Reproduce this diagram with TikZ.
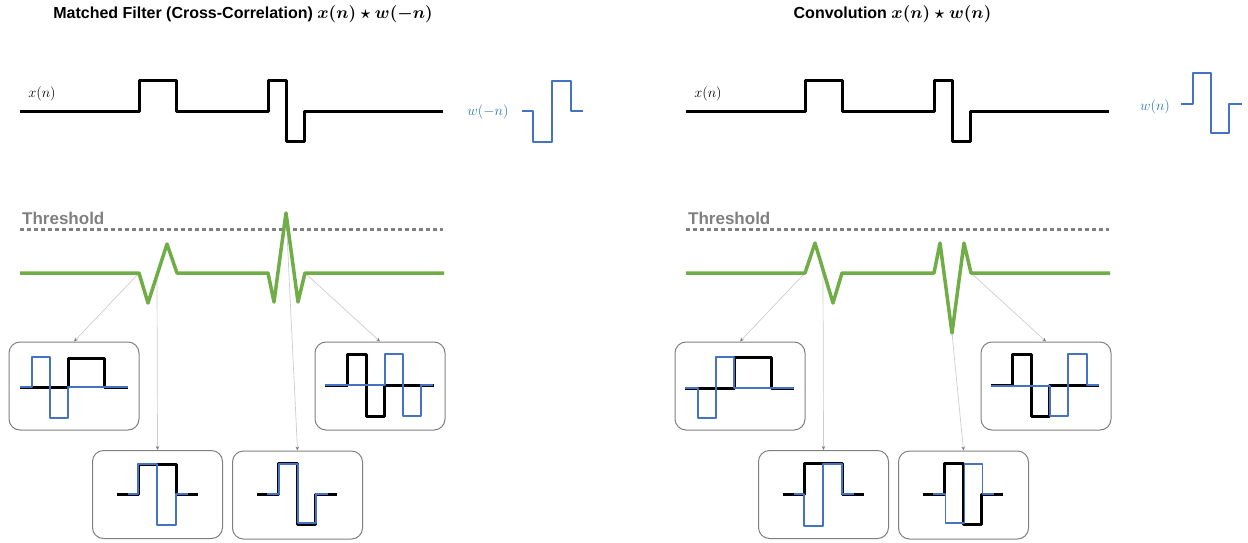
\documentclass[tikz,border=0pt]{standalone}
\usepackage{fontspec}
\setmainfont{Liberation Sans}
\usetikzlibrary{arrows.meta}

\definecolor{sigblue}{RGB}{68,114,196}
\definecolor{lblblue}{RGB}{46,117,182}
\definecolor{corrgreen}{RGB}{112,173,71}
\definecolor{thrgray}{RGB}{128,128,128}
\definecolor{conngray}{RGB}{205,205,205}
\definecolor{boxgray}{RGB}{127,127,127}

\tikzset{
  title/.style={font=\fontsize{16}{19}\selectfont\bfseries, inner sep=0pt},
  siglabel/.style={font=\fontsize{15}{18}\selectfont, inner sep=0pt},
  wlabel/.style={siglabel, text=lblblue},
  xsig/.style={line width=3pt, black, line join=round},
  wsig/.style={line width=1.8pt, sigblue, line join=round},
  bxsig/.style={line width=3pt, black, line join=round},
  bwsig/.style={line width=1.6pt, sigblue, line join=round},
  outline/.style={line width=3.5pt, corrgreen, line join=round},
  thrline/.style={line width=3pt, thrgray, dash pattern=on 3.5pt off 3.5pt},
  thrlabel/.style={font=\fontsize{17}{20}\selectfont\bfseries, text=thrgray, inner sep=0pt, anchor=west},
  panel/.style={draw=boxgray, line width=1pt, rounded corners=11pt,
                minimum width=130pt, minimum height=88pt, inner sep=0pt},
  conn/.style={draw=conngray, line width=0.7pt,
               -{Stealth[length=4pt,width=3.5pt,fill=gray,color=gray]}}
}

\begin{document}
\begin{tikzpicture}[x=1pt,y=-1pt]
\useasboundingbox (0,0) rectangle (1248,542);

% ================= cross-correlation (left) =================
\node[title] (titleL) at (243,14) {Matched Filter (Cross-Correlation) {\boldmath$x(n)\star w(-n)$}};

\node[siglabel] (xlL) at (42,94) {$x(n)$};
\draw[xsig] (20,111) -- (139,111) -- (139,80) -- (176,80) -- (176,111) -- (268,111)
  -- (268,80) -- (286,80) -- (286,141) -- (304,141) -- (304,111) -- (443,111);

\node[wlabel] (wlL) at (488,112) {$w(-n)$};
\draw[wsig] (522,111) -- (533,111) -- (533,142) -- (552,142) -- (552,81) -- (571,81) -- (571,111) -- (583,111);

\node[thrlabel] (thrL) at (22,218) {Threshold};
\draw[thrline] (20,229) -- (443,229);

\coordinate (a1) at (139,273);
\coordinate (a2) at (157,275);
\coordinate (a3) at (286,213);
\coordinate (a4) at (305,273);

\node[panel] (bA) at (74,386) {};
\node[panel] (bB) at (157.5,494.5) {};
\node[panel] (bC) at (297.5,495) {};
\node[panel] (bD) at (380,386) {};

\draw[conn] (a1) -- (bA.north);
\draw[conn] (a2) -- (bB.north);
\draw[conn] (a3) -- (bC.north);
\draw[conn] (a4) -- (bD.north);

\draw[outline] (20,273) -- (a1) -- (148,303) -- (167,244) -- (177,273) -- (268,273)
  -- (274,302) -- (a3) -- (298,302) -- (a4) -- (444,273);

% box A
\draw[bxsig] (20,387) -- (68,387) -- (68,358) -- (104,358) -- (104,387) -- (128,387);
\draw[bwsig] (20,387) -- (32,387) -- (32,357) -- (50,357) -- (50,418) -- (68,418) -- (68,387) -- (128,387);
% box B
\draw[bxsig] (117,494) -- (138,494) -- (138,464) -- (176,464) -- (176,494) -- (198,494);
\draw[bwsig] (128,494) -- (138,494) -- (138,464) -- (157,464) -- (157,525) -- (176,525) -- (176,494) -- (188,494);
% box C
\draw[bxsig] (257,494) -- (278,494) -- (278,463) -- (297,463) -- (297,524) -- (315,524) -- (315,494) -- (337,494);
\draw[bwsig] (267,494) -- (279,494) -- (279,464) -- (298,464) -- (298,523) -- (316,523) -- (316,494) -- (328,494);
% box D
\draw[bxsig] (325,385) -- (347,385) -- (347,354) -- (366,354) -- (366,416) -- (384,416) -- (384,385) -- (434,385);
\draw[bwsig] (325,385) -- (385,385) -- (385,354) -- (403,354) -- (403,416) -- (421,416) -- (421,385) -- (433,385);

% ================= convolution (right) =================
\node[title] (titleR) at (892.5,14) {Convolution {\boldmath$x(n)\star w(n)$}};

\node[siglabel] (xlR) at (708,94) {$x(n)$};
\draw[xsig] (686,111) -- (805,111) -- (805,80) -- (842,80) -- (842,111) -- (934,111)
  -- (934,80) -- (952,80) -- (952,141) -- (970,141) -- (970,111) -- (1109,111);

\node[wlabel] (wlR) at (1155,107) {$w(n)$};
\draw[wsig] (1181,104) -- (1193,104) -- (1193,73) -- (1211,73) -- (1211,133) -- (1229,133) -- (1229,104) -- (1242,104);

\node[thrlabel] (thrR) at (688,218) {Threshold};
\draw[thrline] (686,229) -- (1109,229);

\coordinate (b1) at (805,273);
\coordinate (b2) at (823,270);
\coordinate (b3) at (952,333);
\coordinate (b4) at (971,273);

\node[panel] (cA) at (740,386) {};
\node[panel] (cB) at (823.5,494.5) {};
\node[panel] (cC) at (963.5,495) {};
\node[panel] (cD) at (1046,386) {};

\draw[conn] (b1) -- (cA.north);
\draw[conn] (b2) -- (cB.north);
\draw[conn] (b3) -- (cC.north);
\draw[conn] (b4) -- (cD.north);

\draw[outline] (686,273) -- (b1) -- (815,243) -- (833,303) -- (842,273) -- (934,273)
  -- (940,243) -- (b3) -- (964,243) -- (b4) -- (1110,273);

% box A
\draw[bxsig] (685,388) -- (734,388) -- (734,357) -- (771,357) -- (771,388) -- (794,388);
\draw[bwsig] (685,388) -- (698,388) -- (698,418) -- (716,418) -- (716,357) -- (734,357) -- (734,388) -- (794,388);
% box B
\draw[bxsig] (783,494) -- (804,494) -- (804,463) -- (842,463) -- (842,494) -- (864,494);
\draw[bwsig] (794,494) -- (804,494) -- (804,526) -- (823,526) -- (823,464) -- (842,464) -- (842,494) -- (854,494);
% box C
\draw[bxsig] (923,494) -- (944,494) -- (944,463) -- (963,463) -- (963,524) -- (981,524) -- (981,494) -- (1003,494);
\draw[bwsig] (933,494) -- (945.5,494) -- (945.5,523) -- (964.5,523) -- (964.5,464) -- (982.5,464) -- (982.5,494) -- (994,494);
% box D
\draw[bxsig] (991,385) -- (1012,385) -- (1012,354) -- (1031,354) -- (1031,416) -- (1049,416) -- (1049,385) -- (1099,385);
\draw[bwsig] (991,386) -- (1050,386) -- (1050,416) -- (1068,416) -- (1068,354) -- (1087,354) -- (1087,385) -- (1099,385);
\end{tikzpicture}
\end{document}
